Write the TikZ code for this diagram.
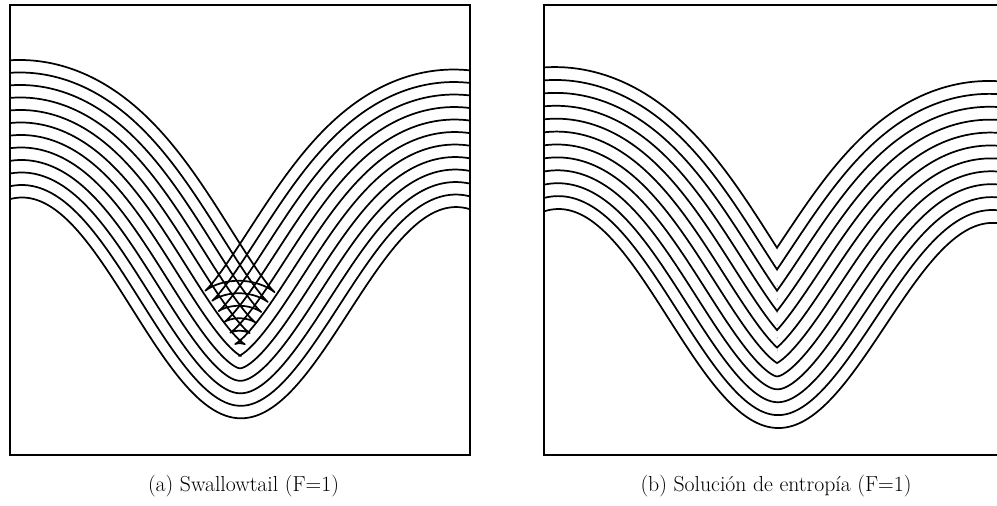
\documentclass[tikz,border=0pt]{standalone}
\usepackage{fontspec}
\begin{document}
\begin{tikzpicture}[
    x=0.0275cm, y=0.0275cm,
    front/.style={line width=1.35pt, line join=round},
    frame/.style={line width=1.7pt},
    caption/.style={font=\fontsize{17}{20}\selectfont, inner sep=0pt, anchor=base},
    % front a distance e above the cosine valley (y stretched by 1.12)
    declare function={
      dep(\u)=\hgt/2*(1-cos(\u/217*180));
      slp(\u)=\hgt/2*pi/217*sin(\u/217*180)/1.12;
      fx(\u,\e)=\u-\e/1.12*slp(\u)/sqrt(1+slp(\u)^2);
      fy(\u,\e)=dep(\u)+\e/sqrt(1+slp(\u)^2);
    }
]
\useasboundingbox (0,0) rectangle (997,506);

% --- PANEL (a) : SWALLOWTAIL ---
\def\hgt{216}
\draw[frame] (10,51) rectangle (470,501);
\begin{scope}
  \clip (11,52) rectangle (469,500);
  \begin{scope}[shift={(240,87.7)}, yslant=-0.022]
    \foreach \k in {0,...,11}
      \draw[front] plot[domain=-262:262, samples=420, variable=\u]
        ({fx(\u,12.5*\k)}, {fy(\u,12.5*\k)});
  \end{scope}
\end{scope}

% --- PANEL (b) : ENTROPY SOLUTION ---
\def\hgt{212}
\draw[frame] (997,51) -- (544,51) -- (544,501) -- (997,501);
\begin{scope}
  \clip (545,52) rectangle (997,500);
  \begin{scope}[shift={(777,78)}, yslant=-0.032]
    \foreach \k in {0,...,11} {
      % left half
      \begin{scope}
        \clip (-300,-100) rectangle (0,520);
        \draw[front] plot[domain=-262:0, samples=210, variable=\u]
          ({fx(\u,12.9*\k)}, {fy(\u,12.9*\k)});
      \end{scope}
      % right half
      \begin{scope}
        \clip (0,-100) rectangle (300,520);
        \draw[front] plot[domain=0:262, samples=210, variable=\u]
          ({fx(\u,12.9*\k)}, {fy(\u,12.9*\k)});
      \end{scope}
    }
  \end{scope}
\end{scope}

% --- LEGENDES ---
\node[caption] (cap-a) at (243.5,14) {(a) Swallowtail (F=1)};
\node[caption] (cap-b) at (776,14) {(b) Solución de entropía (F=1)};

\end{tikzpicture}
\end{document}
